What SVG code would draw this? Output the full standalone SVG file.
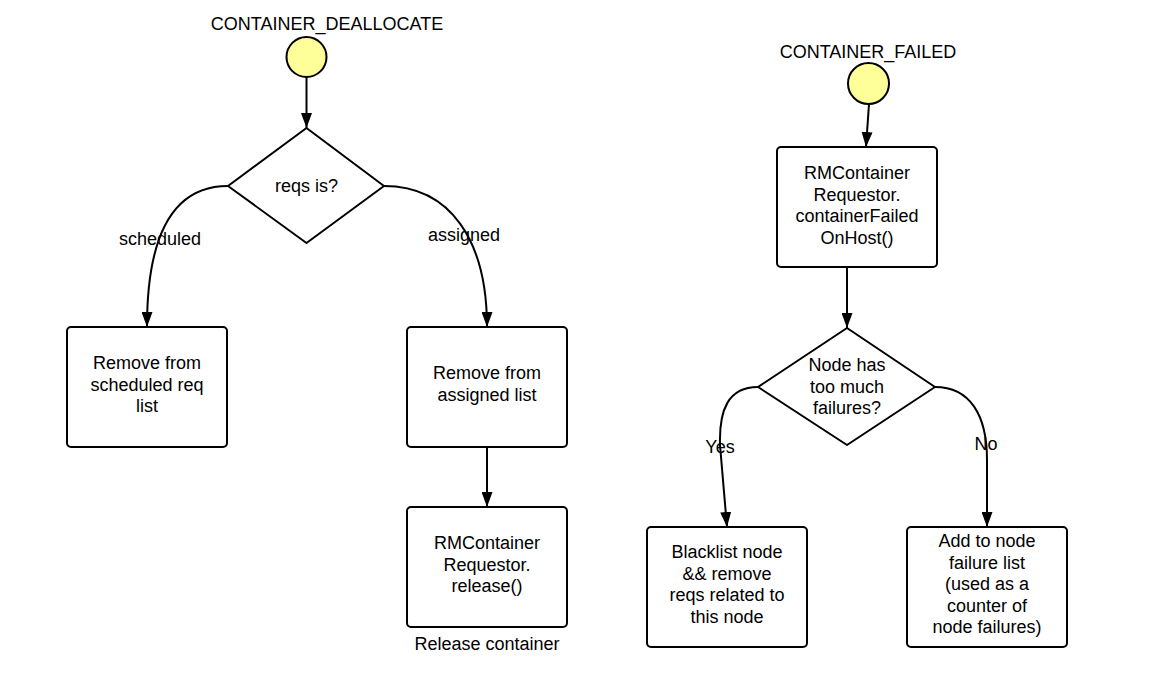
<svg xmlns="http://www.w3.org/2000/svg" width="1161" height="676" viewBox="0 0 1161 676">
<style>
text{font-family:"Liberation Sans",Arial,sans-serif;font-size:18px;fill:#000;text-anchor:middle}
.box{fill:#fff;stroke:#000;stroke-width:2}
.start{fill:#ffff99;stroke:#000;stroke-width:2}
.edge{fill:none;stroke:#000;stroke-width:2;marker-end:url(#arr)}
.line{fill:none;stroke:#000;stroke-width:2}
</style>
<defs>
<marker id="arr" markerUnits="userSpaceOnUse" viewBox="0 0 15 11" refX="15" refY="5.5" markerWidth="15" markerHeight="11" orient="auto">
<path d="M0,0 L15,5.5 L0,11 z" fill="#000"/>
</marker>
</defs>
<rect width="1161" height="676" fill="#fff"/>
<g id="connectors">
<path class="edge" d="M306.5,77 L306.5,128"/>
<path class="edge" d="M228,186 C165,186 147,250 147,327"/>
<path class="edge" d="M384,186 C450,186 487,240 487,327"/>
<path class="edge" d="M487,447 L487,507"/>
<path class="edge" d="M869,104 L866,147"/>
<path class="edge" d="M847,267 L847,328"/>
<path class="edge" d="M758,387 C728,387 719,410 720,445 L727,527"/>
<path class="edge" d="M935,387 C970,387 987,415 987,460 L987,527"/>
<text x="160" y="245">scheduled</text>
<text x="464" y="241">assigned</text>
<text x="720" y="453">Yes</text>
<text x="986" y="450">No</text>
</g>
<g id="start1">
<text x="327" y="30">CONTAINER_DEALLOCATE</text>
<circle class="start" cx="306.5" cy="57" r="20"/>
</g>
<g id="decision1">
<path class="box" stroke-linejoin="round" d="M306.5,128 L384,186 L306.5,243 L228,186 z"/>
<text x="306.5" y="192">reqs is?</text>
</g>
<g id="removeScheduled">
<rect class="box" x="67" y="327" width="160" height="120" rx="4"/>
<text x="147" y="369">Remove from</text>
<text x="147" y="390.5">scheduled req</text>
<text x="147" y="412">list</text>
</g>
<g id="removeAssigned">
<rect class="box" x="407" y="327" width="160" height="120" rx="4"/>
<text x="487" y="379">Remove from</text>
<text x="487" y="400.5">assigned list</text>
</g>
<g id="release">
<rect class="box" x="407" y="507" width="160" height="120" rx="4"/>
<text x="487" y="549">RMContainer</text>
<text x="487" y="570.5">Requestor.</text>
<text x="487" y="592">release()</text>
<text x="487" y="650">Release container</text>
</g>
<g id="start2">
<text x="868" y="58">CONTAINER_FAILED</text>
<circle class="start" cx="868.5" cy="83.5" r="20.5"/>
</g>
<g id="failedOnHost">
<rect class="box" x="777" y="147" width="160" height="120" rx="4"/>
<text x="857" y="179">RMContainer</text>
<text x="857" y="200.5">Requestor.</text>
<text x="857" y="222">containerFailed</text>
<text x="857" y="243.5">OnHost()</text>
</g>
<g id="decision2">
<path class="box" stroke-linejoin="round" d="M847,328 L935,387 L847,445 L758,387 z"/>
<text x="847" y="371">Node has</text>
<text x="847" y="392.5">too much</text>
<text x="847" y="414">failures?</text>
</g>
<g id="blacklist">
<rect class="box" x="647" y="527" width="160" height="120" rx="4"/>
<text x="727" y="558">Blacklist node</text>
<text x="727" y="579.5">&amp;&amp; remove</text>
<text x="727" y="601">reqs related to</text>
<text x="727" y="622.5">this node</text>
</g>
<g id="addFailure">
<rect class="box" x="907" y="527" width="160" height="120" rx="4"/>
<text x="987" y="547">Add to node</text>
<text x="987" y="568.5">failure list</text>
<text x="987" y="590">(used as a</text>
<text x="987" y="611.5">counter of</text>
<text x="987" y="633">node failures)</text>
</g>
</svg>
